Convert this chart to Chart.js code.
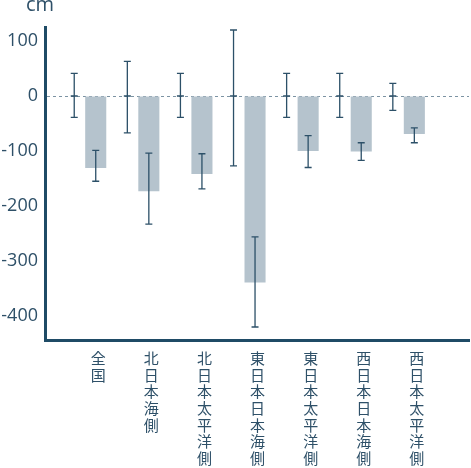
<!DOCTYPE html>
<html lang="ja">
<head>
<meta charset="UTF-8">
<title>cm</title>
<script src="https://cdn.jsdelivr.net/npm/chart.js"></script>
<style>
  html, body { margin: 0; padding: 0; background: #fff; }
  #wrap { position: relative; width: 471px; height: 468px; }
</style>
</head>
<body>
<div id="wrap"><canvas id="chart"></canvas></div>
<script>
// Chart data
const regions = ['全国', '北日本海側', '北日本太平洋側', '東日本日本海側', '東日本太平洋側', '西日本日本海側', '西日本太平洋側'];
const baseValues = [0, 0, 0, 0, 0, 0, 0];
const baseErrHigh = [41, 63, 41, 120, 41, 41, 23];
const baseErrLow = [-39, -67, -39, -127, -39, -39, -26];
const changeValues = [-131, -173, -142, -339, -100, -101, -69];
const changeErrHigh = [-99, -104, -105, -256, -72, -85, -58];
const changeErrLow = [-155, -233, -169, -420, -130, -117, -85];
const yTicks = [100, 0, -100, -200, -300, -400];

const axisColor = '#1f4b66';
const textColor = '#2e5068';
const errColor = '#2c5068';

// Error bars drawn from the bar positions and the y scale
const errorBars = {
  id: 'errorBars',
  afterDatasetsDraw(chart) {
    const ctx = chart.ctx;
    const y = chart.scales.y;
    const sets = [
      { idx: 0, hi: baseErrHigh, lo: baseErrLow, mid: true },
      { idx: 1, hi: changeErrHigh, lo: changeErrLow, mid: false }
    ];
    ctx.save();
    ctx.strokeStyle = errColor;
    ctx.lineWidth = 1.3;
    sets.forEach(s => {
      chart.getDatasetMeta(s.idx).data.forEach((bar, i) => {
        const x = bar.x;
        const top = y.getPixelForValue(s.hi[i]);
        const bot = y.getPixelForValue(s.lo[i]);
        ctx.beginPath();
        ctx.moveTo(x, top);
        ctx.lineTo(x, bot);
        ctx.moveTo(x - 3.5, top);
        ctx.lineTo(x + 3.5, top);
        ctx.moveTo(x - 3.5, bot);
        ctx.lineTo(x + 3.5, bot);
        if (s.mid) {
          const m = y.getPixelForValue(0);
          ctx.moveTo(x - 3.5, m);
          ctx.lineTo(x + 3.5, m);
        }
        ctx.stroke();
      });
    });
    // unit label
    ctx.fillStyle = textColor;
    ctx.font = '20px "Open Sans"';
    ctx.textBaseline = 'alphabetic';
    ctx.textAlign = 'left';
    ctx.fillText('cm', 26, 11);
    ctx.restore();
  }
};

const positions = regions.map((_, i) => i + 1);

new Chart(document.getElementById('chart'), {
  type: 'bar',
  data: {
    datasets: [
      {
        label: 'base',
        data: positions.map((p, i) => ({ x: p, y: baseValues[i] })),
        backgroundColor: 'rgba(0,0,0,0)',
        borderWidth: 0
      },
      {
        label: 'change',
        data: positions.map((p, i) => ({ x: p, y: changeValues[i] })),
        backgroundColor: '#b5c3cd',
        borderWidth: 0
      }
    ]
  },
  options: {
    responsive: true,
    maintainAspectRatio: false,
    animation: false,
    categoryPercentage: 0.81,
    barPercentage: 0.98,
    layout: { padding: { top: 27, right: 2, left: 0, bottom: 0 } },
    plugins: {
      legend: { display: false },
      tooltip: { enabled: false }
    },
    scales: {
      x: {
        type: 'linear',
        offset: false,
        min: 0.247,
        max: 8.232,
        afterBuildTicks: s => { s.ticks = positions.map(p => ({ value: p + 0.25 })); },
        afterFit: s => { s.height = 128; },
        grid: { display: false, drawTicks: false, offset: false },
        border: { color: axisColor, width: 3 },
        ticks: {
          padding: 10,
          autoSkip: false,
          maxRotation: 0,
          color: textColor,
          font: { family: '"Noto Sans CJK JP"', size: 15, lineHeight: 1.11 },
          callback: v => {
            const name = regions[Math.round(v - 0.25) - 1];
            return name ? Array.from(name) : '';
          }
        }
      },
      y: {
        min: -443.6,
        max: 125.5,
        afterBuildTicks: s => { s.ticks = yTicks.map(v => ({ value: v })); },
        afterFit: s => { s.width = 45; },
        border: { color: axisColor, width: 3, dash: [3, 3] },
        grid: {
          drawTicks: false,
          lineWidth: 1,
          color: c => (c.tick && c.tick.value === 0 ? '#7c93a3' : 'rgba(0,0,0,0)')
        },
        ticks: {
          padding: 7,
          color: textColor,
          font: { family: '"Open Sans"', size: 18 }
        }
      }
    }
  },
  plugins: [errorBars]
});
</script>
</body>
</html>
